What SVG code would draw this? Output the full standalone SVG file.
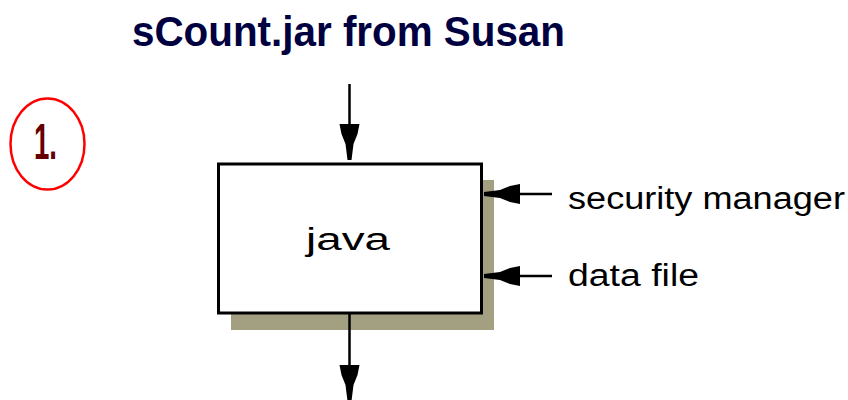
<svg xmlns="http://www.w3.org/2000/svg" xmlns:xlink="http://www.w3.org/1999/xlink" width="848" height="400" viewBox="0 0 848 400">
  <style>
    .title { font-family: "Liberation Sans", Arial, sans-serif; font-weight: bold; font-size: 43px; fill: #000040; }
    .label { font-family: "Liberation Sans", Arial, sans-serif; font-size: 31px; fill: #000000; }
    .step { font-family: "Liberation Sans", Arial, sans-serif; font-weight: bold; font-size: 50px; fill: #660000; }
    .wire { stroke: #000000; stroke-width: 2.5; fill: none; }
    .head { fill: #000000; }
  </style>
  <defs>
    <!-- funnel-shaped arrowhead pointing down, tip at origin -->
    <path id="head" class="head" d="M-10,-36 L10,-36 L8,-26 L4,-16 L2,0 L-2,0 L-4,-16 L-8,-26 Z"/>
  </defs>

  <g id="title">
    <text class="title" x="132" y="46" textLength="433" lengthAdjust="spacingAndGlyphs">sCount.jar from Susan</text>
  </g>

  <g id="step-1">
    <ellipse cx="47.5" cy="144" rx="37" ry="45.5" fill="none" stroke="#ff0000" stroke-width="2.5"/>
    <text class="step" x="34" y="159" textLength="23" lengthAdjust="spacingAndGlyphs">1.</text>
  </g>

  <g id="java">
    <rect x="231" y="180" width="263" height="150" fill="#a2a080"/>
    <rect x="218.5" y="164" width="263" height="149" fill="#ffffff" stroke="#000000" stroke-width="3"/>
    <text class="label" x="306" y="250" font-size="46" textLength="84" lengthAdjust="spacingAndGlyphs">java</text>
  </g>

  <g id="security-manager">
    <text class="label" x="568" y="209" textLength="277" lengthAdjust="spacingAndGlyphs">security manager</text>
  </g>

  <g id="data-file">
    <text class="label" x="568" y="286" textLength="131" lengthAdjust="spacingAndGlyphs">data file</text>
  </g>

  <g id="connectors">
    <line class="wire" x1="349.5" y1="84" x2="349.5" y2="130"/>
    <use xlink:href="#head" transform="translate(349.5,160)"/>
    <line class="wire" x1="349.5" y1="314" x2="349.5" y2="372"/>
    <use xlink:href="#head" transform="translate(349.5,401)"/>
    <line class="wire" x1="552" y1="194" x2="510" y2="194"/>
    <use xlink:href="#head" transform="translate(484,194) rotate(90)"/>
    <line class="wire" x1="552" y1="276" x2="510" y2="276"/>
    <use xlink:href="#head" transform="translate(484,276) rotate(90)"/>
  </g>
</svg>
